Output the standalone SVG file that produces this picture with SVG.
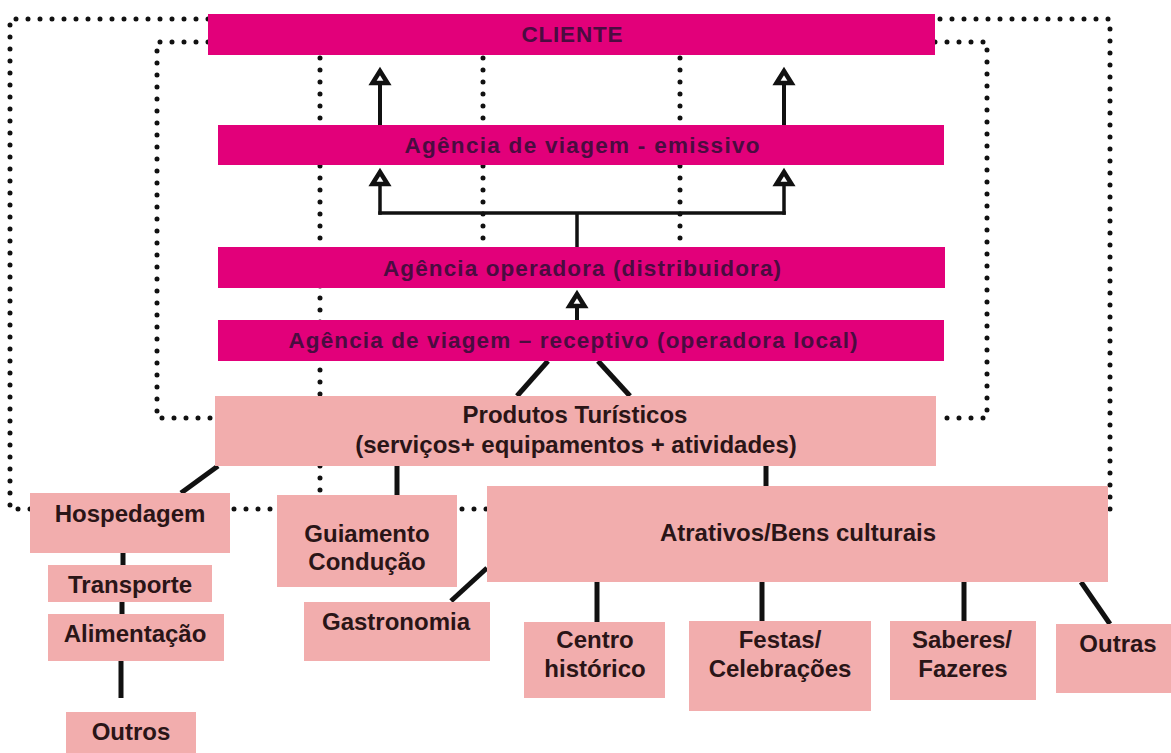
<svg xmlns="http://www.w3.org/2000/svg" width="1171" height="753" viewBox="0 0 1171 753">
<style>
.bg{fill:#ffffff}
.mag{fill:#e2007a}
.pink{fill:#f2adad}
.mt{font-family:"Liberation Sans",Arial,sans-serif;font-weight:bold;font-size:22.5px;fill:#4a0c40;text-anchor:middle}
.pt{font-family:"Liberation Sans",Arial,sans-serif;font-weight:bold;font-size:24px;fill:#2a1517;text-anchor:middle}
.dot{fill:none;stroke:#111;stroke-width:5;stroke-linecap:round;stroke-dasharray:0 12}
.ln{fill:none;stroke:#111;stroke-width:5}
.ar{fill:none;stroke:#111;stroke-width:4}
.br{fill:none;stroke:#111;stroke-width:3.5}
</style>
<defs>
<marker id="arrow" viewBox="-4 -14 28 28" refX="0" refY="0" markerWidth="28" markerHeight="28" markerUnits="userSpaceOnUse" orient="auto">
<path d="M1,-7.5 L13,0 L1,7.5 Z" fill="#ffffff" stroke="#111" stroke-width="4.5" stroke-linejoin="miter"/>
</marker>
</defs>
<rect class="bg" x="0" y="0" width="1171" height="753"/>

<g id="dotted">
<path class="dot" d="M208,19 H10 V509 H1110 V19 H935"/>
<path class="dot" d="M208,42 H157 V418 H215"/>
<path class="dot" d="M935,42 H987 V418 H936"/>
<path class="dot" d="M320,58 V492"/>
<path class="dot" d="M483,58 V242"/>
<path class="dot" d="M680,58 V242"/>
</g>

<g id="connectors">
<line class="ar" x1="380" y1="125" x2="380" y2="84" marker-end="url(#arrow)"/>
<line class="ar" x1="784" y1="125" x2="784" y2="84" marker-end="url(#arrow)"/>
<path class="br" d="M378.25,213 H785.75"/>
<line class="br" x1="380" y1="214.75" x2="380" y2="185" marker-end="url(#arrow)"/>
<line class="br" x1="784" y1="214.75" x2="784" y2="185" marker-end="url(#arrow)"/>
<line class="br" x1="577" y1="213" x2="577" y2="247"/>
<line class="ar" x1="577" y1="320" x2="577" y2="307" marker-end="url(#arrow)"/>
<line class="ln" x1="548" y1="361" x2="517" y2="396"/>
<line class="ln" x1="598" y1="361" x2="630" y2="396"/>
<line class="ln" x1="218" y1="466" x2="181" y2="493"/>
<line class="ln" x1="397" y1="466" x2="397" y2="495"/>
<line class="ln" x1="766" y1="466" x2="766" y2="486"/>
<line class="ln" x1="123" y1="553" x2="123" y2="565"/>
<line class="ln" x1="122" y1="602" x2="122" y2="614"/>
<line class="ln" x1="121" y1="661" x2="121" y2="698"/>
<line class="ln" x1="487" y1="568" x2="451" y2="601"/>
<line class="ln" x1="597" y1="582" x2="597" y2="622"/>
<line class="ln" x1="762" y1="582" x2="762" y2="621"/>
<line class="ln" x1="964" y1="582" x2="964" y2="621"/>
<line class="ln" x1="1081" y1="582" x2="1110" y2="624"/>
</g>

<g id="cliente">
<rect class="mag" x="208" y="14" width="727" height="41"/>
<text class="mt" x="572" y="42" textLength="101" lengthAdjust="spacing">CLIENTE</text>
</g>
<g id="emissivo">
<rect class="mag" x="218" y="125" width="726" height="40"/>
<text class="mt" x="582" y="153" textLength="355" lengthAdjust="spacing">Agência de viagem - emissivo</text>
</g>
<g id="operadora">
<rect class="mag" x="218" y="247" width="727" height="41"/>
<text class="mt" x="582" y="276" textLength="398" lengthAdjust="spacing">Agência operadora (distribuidora)</text>
</g>
<g id="receptivo">
<rect class="mag" x="218" y="320" width="726" height="41"/>
<text class="mt" x="573" y="348" textLength="569" lengthAdjust="spacing">Agência de viagem – receptivo (operadora local)</text>
</g>
<g id="produtos">
<rect class="pink" x="215" y="396" width="721" height="70"/>
<text class="pt" x="575" y="423">Produtos Turísticos</text>
<text class="pt" x="576" y="453">(serviços+ equipamentos + atividades)</text>
</g>
<g id="hospedagem">
<rect class="pink" x="30" y="493" width="200" height="60"/>
<text class="pt" x="130" y="522">Hospedagem</text>
</g>
<g id="transporte">
<rect class="pink" x="48" y="565" width="164" height="37"/>
<text class="pt" x="130" y="593">Transporte</text>
</g>
<g id="alimentacao">
<rect class="pink" x="48" y="614" width="176" height="47"/>
<text class="pt" x="135" y="642">Alimentação</text>
</g>
<g id="outros">
<rect class="pink" x="66" y="712" width="130" height="41"/>
<text class="pt" x="131" y="740">Outros</text>
</g>
<g id="guiamento">
<rect class="pink" x="277" y="495" width="180" height="92"/>
<text class="pt" x="367" y="542">Guiamento</text>
<text class="pt" x="367" y="570">Condução</text>
</g>
<g id="gastronomia">
<rect class="pink" x="304" y="602" width="186" height="59"/>
<text class="pt" x="396" y="630">Gastronomia</text>
</g>
<g id="atrativos">
<rect class="pink" x="487" y="486" width="621" height="96"/>
<text class="pt" x="798" y="541">Atrativos/Bens culturais</text>
</g>
<g id="centro">
<rect class="pink" x="524" y="622" width="141" height="76"/>
<text class="pt" x="595" y="648">Centro</text>
<text class="pt" x="595" y="677">histórico</text>
</g>
<g id="festas">
<rect class="pink" x="689" y="621" width="182" height="90"/>
<text class="pt" x="780" y="648">Festas/</text>
<text class="pt" x="780" y="677">Celebrações</text>
</g>
<g id="saberes">
<rect class="pink" x="890" y="621" width="146" height="79"/>
<text class="pt" x="962" y="648">Saberes/</text>
<text class="pt" x="963" y="677">Fazeres</text>
</g>
<g id="outras">
<rect class="pink" x="1056" y="624" width="115" height="69"/>
<text class="pt" x="1118" y="652">Outras</text>
</g>
</svg>
